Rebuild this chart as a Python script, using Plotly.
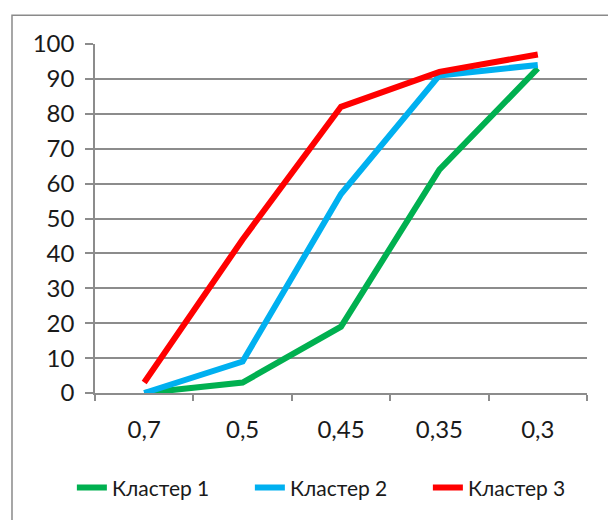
import plotly.graph_objects as go

# Threshold values (category axis) and cluster percentages
thresholds = ["0,7", "0,5", "0,45", "0,35", "0,3"]
cluster1 = [0, 3, 19, 64, 93]
cluster2 = [0, 9, 57, 91, 94]
cluster3 = [3, 44, 82, 92, 97]
series_names = ["Кластер 1", "Кластер 2", "Кластер 3"]
series_colors = ["#00B050", "#00B0F0", "#FF0000"]

font_family = "Lato, 'Open Sans', sans-serif"
grid_color = "#8C8C8C"

fig = go.Figure()
for name, vals, color in zip(series_names, [cluster1, cluster2, cluster3], series_colors):
    fig.add_trace(go.Scatter(
        x=thresholds, y=vals, name=name, mode="lines",
        line=dict(color=color, width=6),
    ))

# Outer chart-area frame
fig.add_shape(type="rect", xref="paper", yref="paper",
              x0=-0.1687, x1=1.2, y0=-0.6, y1=1.0826,
              line=dict(color="#8A8A8A", width=1.5), layer="below")

fig.update_layout(
    width=608, height=520,
    margin=dict(l=95, r=21, t=44, b=125),
    paper_bgcolor="white", plot_bgcolor="white",
    font=dict(family=font_family, size=24, color="#1a1a1a"),
    showlegend=True,
    legend=dict(orientation="h", x=-0.047, xanchor="left", y=-0.272, yanchor="middle",
                font=dict(size=21), itemwidth=30, tracegroupgap=0, entrywidth=133),
    xaxis=dict(
        type="category", showgrid=False,
        showline=True, linecolor=grid_color, linewidth=1.5,
        ticks="outside", tickson="boundaries", ticklen=6, tickcolor=grid_color, tickwidth=1.5,
        ticklabelstandoff=14,
        range=[-0.5, 4.5],
    ),
    yaxis=dict(
        range=[0, 100], dtick=10, showgrid=True, gridcolor=grid_color, gridwidth=1.5,
        showline=True, linecolor=grid_color, linewidth=1.5,
        ticks="outside", ticklen=8, tickcolor=grid_color, tickwidth=1.5,
        zeroline=False, ticklabelstandoff=6,
    ),
)

fig.write_html("out.html")
